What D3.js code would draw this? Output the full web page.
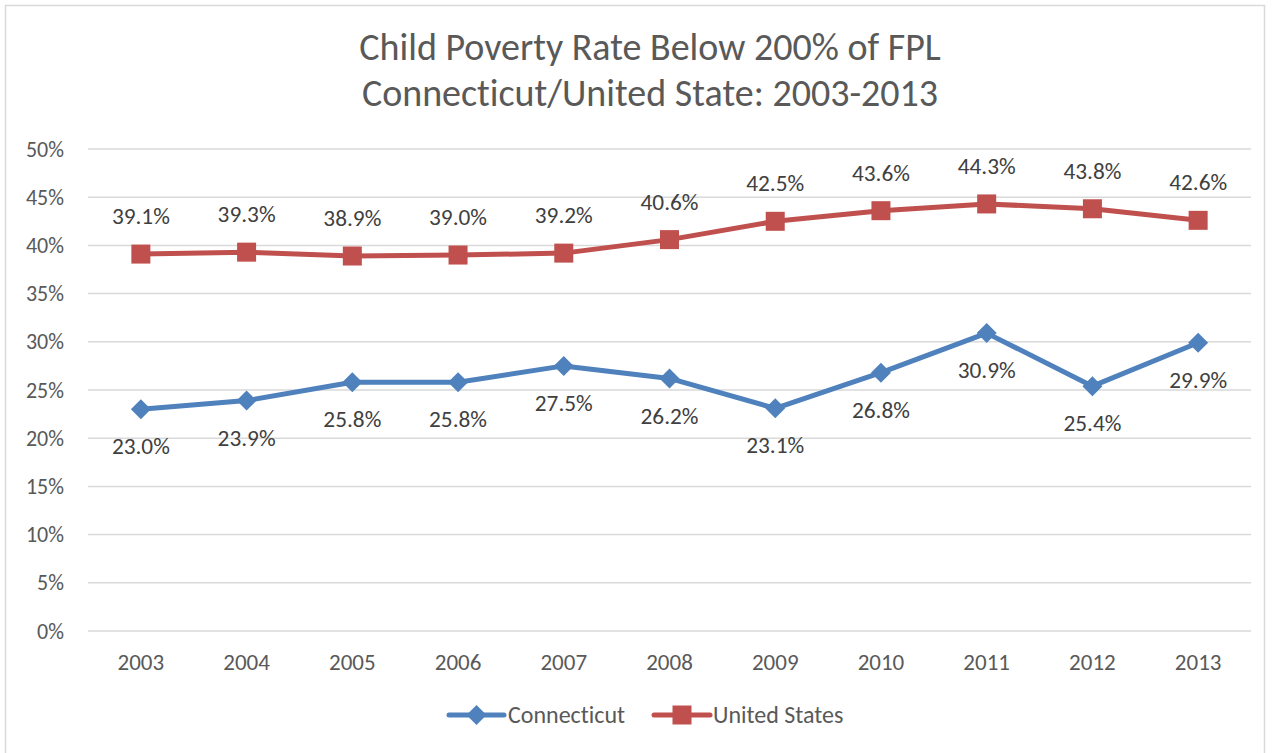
<!DOCTYPE html>
<html>
<head>
<meta charset="utf-8">
<script src="https://cdn.jsdelivr.net/npm/d3@7"></script>
<style>
  html, body { margin: 0; padding: 0; background: #fff; }
  svg { display: block; font-family: Carlito, Calibri, Lato, sans-serif; font-variant-ligatures: none; }
</style>
</head>
<body>
<svg id="chart" width="1280" height="753"></svg>
<script>
const years = ["2003","2004","2005","2006","2007","2008","2009","2010","2011","2012","2013"];
const connecticut = [23.0, 23.9, 25.8, 25.8, 27.5, 26.2, 23.1, 26.8, 30.9, 25.4, 29.9];
const unitedStates = [39.1, 39.3, 38.9, 39.0, 39.2, 40.6, 42.5, 43.6, 44.3, 43.8, 42.6];
const yTicks = [0, 5, 10, 15, 20, 25, 30, 35, 40, 45, 50];
const titleLines = ["Child Poverty Rate Below 200% of FPL", "Connecticut/United State: 2003-2013"];
const seriesNames = ["Connecticut", "United States"];

const svg = d3.select("#chart");
const fontFam = "Carlito, Calibri, Lato, sans-serif";
const margin = { left: 88, right: 1251, top: 149, bottom: 631 };
const textColor = "#595959";
const colors = ["#4F81BD", "#C0504D"];

// chart border
svg.append("rect").attr("x", 5.5).attr("y", 5.5).attr("width", 1259).attr("height", 760)
  .attr("fill", "#fff").attr("stroke", "#d9d9d9").attr("stroke-width", 1.5);

// title
svg.append("text").attr("text-anchor", "middle")
  .attr("fill", textColor).attr("font-size", 38)
  .selectAll("tspan").data(titleLines).join("tspan")
  .attr("x", 650).attr("y", (d, i) => 60 + i * 46).text(d => d);

const x = d3.scaleBand().domain(years).range([margin.left, margin.right]);
const y = d3.scaleLinear().domain([0, 50]).range([margin.bottom, margin.top]);

// gridlines
svg.append("g").selectAll("line").data(yTicks).join("line")
  .attr("x1", margin.left).attr("x2", margin.right)
  .attr("y1", d => y(d)).attr("y2", d => y(d))
  .attr("stroke", "#d9d9d9").attr("stroke-width", 1.5);

// y axis
const yAxis = svg.append("g").attr("transform", `translate(${margin.left},0)`)
  .call(d3.axisLeft(y).tickValues(yTicks).tickSize(0).tickPadding(24).tickFormat(d => d + "%"));
yAxis.select(".domain").remove();
yAxis.selectAll("text").attr("fill", textColor).attr("font-size", 22).attr("font-family", fontFam);

// x axis
const xAxis = svg.append("g").attr("transform", `translate(0,${margin.bottom})`)
  .call(d3.axisBottom(x).tickSize(0).tickPadding(23));
xAxis.select(".domain").remove();
xAxis.selectAll("text").attr("fill", textColor).attr("font-size", 23).attr("font-family", fontFam);

const cx = d => x(d) + x.bandwidth() / 2;
const line = d3.line().x((d, i) => cx(years[i])).y(d => y(d));

function drawMarker(g, type, px, py, color) {
  if (type === "diamond") {
    const r = 10;
    g.append("path").attr("d", `M${px},${py - r}L${px + r},${py}L${px},${py + r}L${px - r},${py}Z`)
      .attr("fill", color);
  } else {
    const s = 19;
    g.append("rect").attr("x", px - s / 2).attr("y", py - s / 2).attr("width", s).attr("height", s)
      .attr("fill", color);
  }
}

const seriesData = [connecticut, unitedStates];
const markerTypes = ["diamond", "square"];
const labelOffsets = [37, -38];

seriesData.forEach((vals, si) => {
  const g = svg.append("g");
  g.append("path").datum(vals).attr("d", line).attr("fill", "none")
    .attr("stroke", colors[si]).attr("stroke-width", 5).attr("stroke-linejoin", "round").attr("stroke-linecap", "round");
  vals.forEach((v, i) => drawMarker(g, markerTypes[si], cx(years[i]), y(v), colors[si]));
  g.selectAll("text.lbl").data(vals).join("text").attr("class", "lbl")
    .attr("x", (d, i) => cx(years[i])).attr("y", d => y(d) + labelOffsets[si])
    .attr("dy", "0.35em").attr("text-anchor", "middle")
    .attr("fill", "#404040").attr("font-size", 23.3)
    .text(d => d.toFixed(1) + "%");
});

// legend
const legendItems = [{ x0: 449, x1: 504, tx: 508 }, { x0: 654, x1: 710, tx: 713 }];
legendItems.forEach((it, si) => {
  const g = svg.append("g");
  const ly = 715;
  g.append("line").attr("x1", it.x0).attr("x2", it.x1).attr("y1", ly).attr("y2", ly)
    .attr("stroke", colors[si]).attr("stroke-width", 5).attr("stroke-linecap", "round");
  drawMarker(g, markerTypes[si], (it.x0 + it.x1) / 2, ly, colors[si]);
  g.append("text").attr("x", it.tx).attr("y", ly).attr("dy", "0.35em")
    .attr("fill", textColor).attr("font-size", 24).text(seriesNames[si]);
});
</script>
</body>
</html>
